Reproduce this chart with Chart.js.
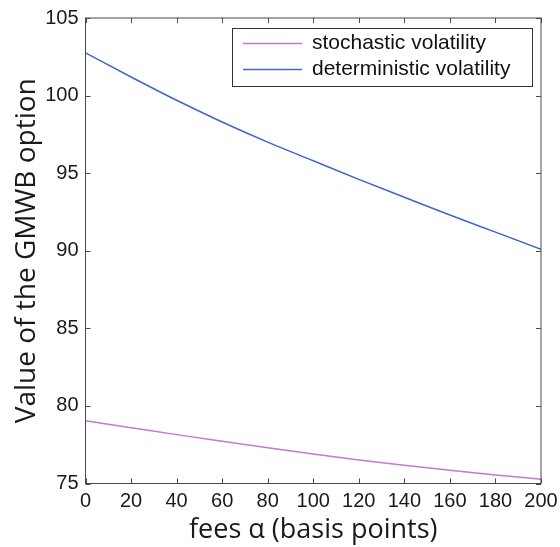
<!DOCTYPE html>
<html>
<head>
<meta charset="utf-8">
<script src="https://cdn.jsdelivr.net/npm/chart.js@4"></script>
<style>
  body { margin: 0; background: #fff; }
  canvas { display: block; }
</style>
</head>
<body>
<canvas id="myChart" width="560" height="547"></canvas>
<script>
// fees in basis points
let fees = [0, 20, 40, 60, 80, 100, 120, 140, 160, 180, 200];
let stochVol = [79.05, 78.6, 78.15, 77.72, 77.3, 76.9, 76.52, 76.17, 75.85, 75.55, 75.27];
let detVol = [102.75, 101.2, 99.7, 98.3, 97.0, 95.8, 94.6, 93.45, 92.3, 91.2, 90.1];
let xTicks = [0, 20, 40, 60, 80, 100, 120, 140, 160, 180, 200];
let yTicks = [75, 80, 85, 90, 95, 100, 105];

const axisColor = '#4a4a4a';

function toPoints(values) {
    return values.map((v, i) => ({x: fees[i], y: v}));
}

// MATLAB style box with ticks pointing inwards
const boxTicks = {
    id: 'boxTicks',
    afterDatasetsDraw(chart) {
        const {ctx, chartArea: a, scales} = chart;
        ctx.save();
        ctx.strokeStyle = axisColor;
        ctx.lineWidth = 1;
        ctx.strokeRect(a.left, a.top, a.right - a.left, a.bottom - a.top);
        ctx.beginPath();
        xTicks.forEach(t => {
            let px = Math.round(scales.x.getPixelForValue(t)) + 0.5;
            ctx.moveTo(px, a.bottom); ctx.lineTo(px, a.bottom - 5);
            ctx.moveTo(px, a.top); ctx.lineTo(px, a.top + 5);
        });
        yTicks.forEach(t => {
            let py = Math.round(scales.y.getPixelForValue(t)) + 0.5;
            ctx.moveTo(a.left, py); ctx.lineTo(a.left + 5, py);
            ctx.moveTo(a.right, py); ctx.lineTo(a.right - 5, py);
        });
        ctx.stroke();
        ctx.restore();
    }
};

// legend box in the top right corner of the plot
const boxLegend = {
    id: 'boxLegend',
    afterDraw(chart) {
        const {ctx, chartArea: a} = chart;
        let left = a.right - 309, top = a.top + 10, w = 300, h = 58;
        ctx.save();
        ctx.fillStyle = '#fff';
        ctx.fillRect(left, top, w, h);
        ctx.strokeStyle = '#333';
        ctx.lineWidth = 1;
        ctx.strokeRect(left + 0.5, top + 0.5, w, h);
        ctx.font = '21px "Liberation Sans", Arial, sans-serif';
        ctx.textBaseline = 'middle';
        chart.data.datasets.forEach((ds, i) => {
            let y = top + 15.5 + i * 26;
            ctx.strokeStyle = ds.borderColor;
            ctx.lineWidth = 1.5;
            ctx.beginPath();
            ctx.moveTo(left + 11, y);
            ctx.lineTo(left + 70, y);
            ctx.stroke();
            ctx.fillStyle = '#111';
            ctx.fillText(ds.label, left + 80, y);
        });
        ctx.restore();
    }
};

var ctx = document.getElementById("myChart").getContext('2d');
new Chart(ctx, {
    type: 'line',
    plugins: [boxTicks, boxLegend],
    data: {
        datasets: [{
            label: 'stochastic volatility',
            data: toPoints(stochVol),
            borderColor: 'rgb(196, 120, 206)',
            borderWidth: 1.5,
            pointRadius: 0,
            cubicInterpolationMode: 'monotone',
        }, {
            label: 'deterministic volatility',
            data: toPoints(detVol),
            borderColor: 'rgb(62, 104, 196)',
            borderWidth: 1.5,
            pointRadius: 0,
            cubicInterpolationMode: 'monotone',
        }]
    },
    options: {
        responsive: false,
        animation: false,
        layout: {padding: {left: 0, right: 19, top: 18, bottom: 0}},
        plugins: {
            legend: {display: false},
            tooltip: {enabled: false}
        },
        scales: {
            x: {
                type: 'linear',
                min: 0,
                max: 200,
                afterBuildTicks: s => { s.ticks = xTicks.map(v => ({value: v})); },
                afterFit: s => { s.height = 63.5; s.paddingRight = 0; s.paddingLeft = 0; },
                grid: {display: false, drawTicks: false},
                border: {display: false},
                ticks: {
                    padding: 6,
                    color: '#1a1a1a',
                    font: {family: '"Liberation Sans", Arial, sans-serif', size: 20}
                },
                title: {
                    display: true,
                    text: 'fees α (basis points)',
                    color: '#1a1a1a',
                    padding: {top: 0, bottom: 0},
                    font: {family: '"Open Sans", sans-serif', size: 27, lineHeight: 1.2}
                }
            },
            y: {
                min: 75,
                max: 105,
                afterBuildTicks: s => { s.ticks = yTicks.map(v => ({value: v})); },
                afterFit: s => { s.width = 85.5; s.paddingTop = 0; s.paddingBottom = 0; },
                grid: {display: false, drawTicks: false},
                border: {display: false},
                ticks: {
                    padding: 7,
                    color: '#1a1a1a',
                    font: {family: '"Liberation Sans", Arial, sans-serif', size: 20}
                },
                title: {
                    display: true,
                    text: 'Value of the GMWB option',
                    color: '#1a1a1a',
                    padding: {top: 10, bottom: 0},
                    font: {family: '"Open Sans", sans-serif', size: 28, lineHeight: 1.2}
                }
            }
        }
    }
});
</script>
</body>
</html>
